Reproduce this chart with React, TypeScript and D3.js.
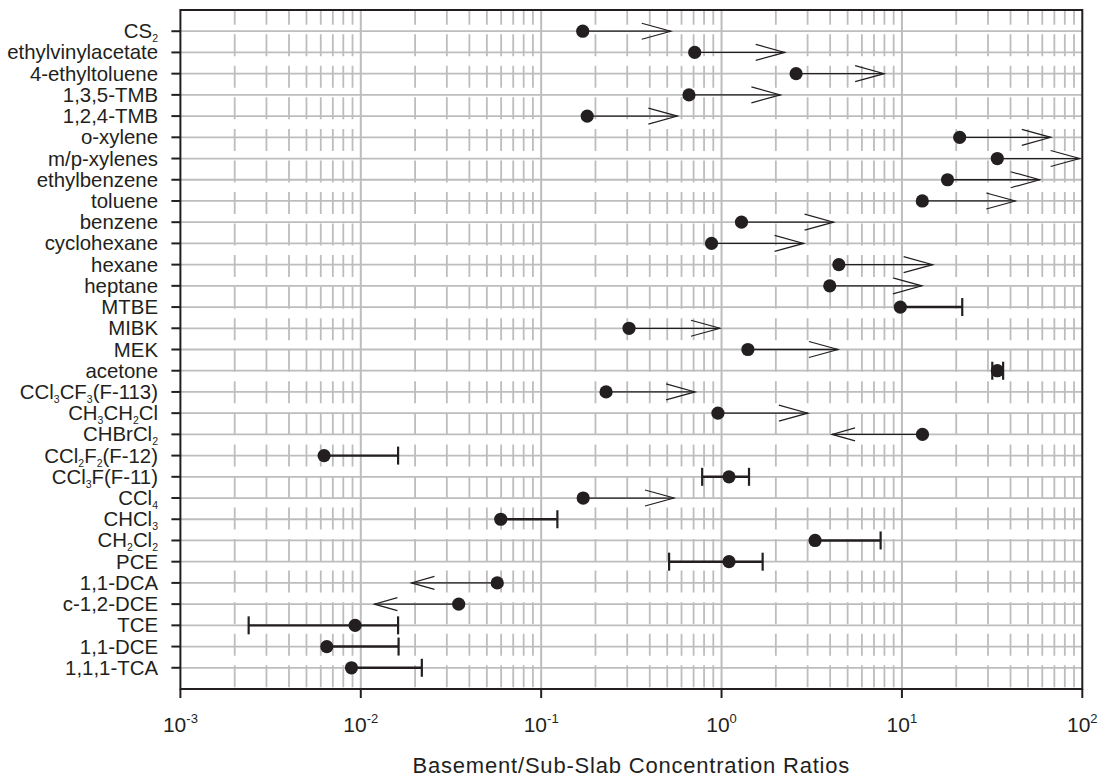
import React from "react";
import * as d3 from "d3";

// ---------- data ----------
// {n} marks a subscript
const categories = [
  "CS{2}", "ethylvinylacetate", "4-ethyltoluene", "1,3,5-TMB", "1,2,4-TMB",
  "o-xylene", "m/p-xylenes", "ethylbenzene", "toluene", "benzene",
  "cyclohexane", "hexane", "heptane", "MTBE", "MIBK", "MEK", "acetone",
  "CCl{3}CF{3}(F-113)", "CH{3}CH{2}Cl", "CHBrCl{2}", "CCl{2}F{2}(F-12)",
  "CCl{3}F(F-11)", "CCl{4}", "CHCl{3}", "CH{2}Cl{2}", "PCE", "1,1-DCA",
  "c-1,2-DCE", "TCE", "1,1-DCE", "1,1,1-TCA",
];
const ratioValues = [
  0.170, 0.71, 2.59, 0.66, 0.18,
  20.9, 33.8, 17.9, 12.97, 1.29,
  0.88, 4.47, 3.98, 9.8, 0.307, 1.40, 33.8,
  0.229, 0.955, 13.0, 0.00626,
  1.10, 0.171, 0.0597, 3.30, 1.10, 0.0571,
  0.0349, 0.0093, 0.00648, 0.00888,
];
// up = lower bound (arrow right), down = upper bound (arrow left), range = error bar
const markTypes = [
  "up", "up", "up", "up", "up",
  "up", "up", "up", "up", "up",
  "up", "up", "up", "range", "up", "up", "range",
  "up", "up", "down", "range",
  "range", "up", "range", "range", "range", "down",
  "down", "range", "range", "range",
];
const lowValues: (number | null)[] = [
  null, null, null, null, null,
  null, null, null, null, null,
  null, null, null, null, null, null, 31.7,
  null, null, 4.1, null,
  0.781, null, null, null, 0.512, 0.0191,
  0.0119, 0.00239, null, null,
];
const highValues: (number | null)[] = [
  0.523, 2.24, 7.97, 2.12, 0.569,
  66.9, 96.6, 58, 42.5, 4.18,
  2.85, 14.8, 12.9, 21.6, 0.98, 4.42, 36.4,
  0.713, 3.01, null, 0.0161,
  1.42, 0.545, 0.123, 7.62, 1.69, null,
  null, 0.0161, 0.0162, 0.0218,
];
const xTickValues = [1e-3, 1e-2, 1e-1, 1e0, 1e1, 1e2];
const xTickExponents = ["-3", "-2", "-1", "0", "1", "2"];
const xTitle = "Basement/Sub-Slab Concentration Ratios";

// ---------- layout ----------
const W = 1104, H = 777;
const left = 180.4, right = 1082.3, top = 10, bottom = 689;
const FONT = "'Liberation Sans', Arial, Helvetica, sans-serif";
const INK = "#231f20";
const GRID = "#bdbdbd";

function parseLabel(s: string) {
  const parts: { t: string; sub: boolean }[] = [];
  const re = /\{(\d+)\}/g;
  let last = 0;
  let m: RegExpExecArray | null;
  while ((m = re.exec(s))) {
    if (m.index > last) parts.push({ t: s.slice(last, m.index), sub: false });
    parts.push({ t: m[1], sub: true });
    last = m.index + m[0].length;
  }
  if (last < s.length) parts.push({ t: s.slice(last), sub: false });
  return parts;
}

export default function App() {
  const x = d3.scaleLog().domain([1e-3, 1e2]).range([left, right]);
  const y = d3.scalePoint<number>().domain(categories.map((_, i) => i)).range([top, bottom]).padding(1);

  const minorTicks: number[] = [];
  for (let e = -3; e < 2; e++) for (let k = 2; k <= 9; k++) minorTicks.push(k * Math.pow(10, e));
  const majorGrid = xTickValues.slice(1, -1);

  return (
    <svg width={W} height={H} style={{ position: "absolute", left: 0, top: 0, background: "#fff" }} fontFamily={FONT}>
      <rect x={0} y={0} width={W} height={H} fill="#fff" />
      {/* horizontal gridlines */}
      {categories.map((_, i) => (
        <line key={"h" + i} x1={left} x2={right} y1={y(i)} y2={y(i)} stroke={GRID} strokeWidth={1.8} />
      ))}
      {/* minor vertical (dashed) */}
      {minorTicks.map((v, i) => (
        <line key={"m" + i} x1={x(v)} x2={x(v)} y1={top} y2={bottom} stroke={GRID} strokeWidth={1.8}
          strokeDasharray="22 9.55" strokeDashoffset={7.3} />
      ))}
      {/* major vertical */}
      {majorGrid.map((v, i) => (
        <line key={"M" + i} x1={x(v)} x2={x(v)} y1={top} y2={bottom} stroke={GRID} strokeWidth={2} />
      ))}

      {/* marks */}
      {categories.map((_, i) => {
        const cy = y(i) as number;
        const cx = x(ratioValues[i]);
        const t = markTypes[i];
        const els: React.ReactNode[] = [];
        if (t === "up") {
          const tip = x(highValues[i] as number);
          els.push(<line key="s" x1={cx} x2={tip} y1={cy} y2={cy} stroke={INK} strokeWidth={1.3} />);
          els.push(<polyline key="a" points={`${tip - 29},${cy - 8} ${tip},${cy} ${tip - 29},${cy + 8}`} fill="none" stroke={INK} strokeWidth={1.2} />);
        } else if (t === "down") {
          const tip = x(lowValues[i] as number);
          els.push(<line key="s" x1={cx} x2={tip} y1={cy} y2={cy} stroke={INK} strokeWidth={1.3} />);
          els.push(<polyline key="a" points={`${tip + 23},${cy - 6.5} ${tip},${cy} ${tip + 23},${cy + 6.5}`} fill="none" stroke={INK} strokeWidth={1.2} />);
        } else {
          const lo = lowValues[i] != null ? x(lowValues[i] as number) : cx;
          const hi = x(highValues[i] as number);
          els.push(<line key="s" x1={lo} x2={hi} y1={cy} y2={cy} stroke={INK} strokeWidth={2.4} />);
          if (lowValues[i] != null)
            els.push(<line key="cl" x1={lo} x2={lo} y1={cy - 9} y2={cy + 9} stroke={INK} strokeWidth={2.2} />);
          els.push(<line key="ch" x1={hi} x2={hi} y1={cy - 9} y2={cy + 9} stroke={INK} strokeWidth={2.2} />);
        }
        els.push(<circle key="c" cx={cx} cy={cy} r={6.6} fill={INK} />);
        return <g key={"r" + i}>{els}</g>;
      })}

      {/* frame */}
      <rect x={left} y={top} width={right - left} height={bottom - top} fill="none" stroke={INK} strokeWidth={2} />

      {/* y ticks & labels */}
      {categories.map((c, i) => {
        const cy = y(i) as number;
        const parts = parseLabel(c);
        let shifted = false;
        return (
          <g key={"yl" + i}>
            <line x1={left - 9} x2={left} y1={cy} y2={cy} stroke={INK} strokeWidth={2} />
            <text x={158} y={cy + 7} textAnchor="end" fontSize={20.4} fill={INK}>
              {parts.map((p, j) => {
                let dy = 0;
                if (p.sub && !shifted) { dy = 4; shifted = true; }
                else if (!p.sub && shifted) { dy = -4; shifted = false; }
                return (
                  <tspan key={j} dy={dy} fontSize={p.sub ? 10.5 : 20.4}>{p.t}</tspan>
                );
              })}
            </text>
          </g>
        );
      })}

      {/* x ticks & labels */}
      {xTickValues.map((v, i) => (
        <g key={"xt" + i}>
          <line x1={x(v)} x2={x(v)} y1={bottom} y2={bottom + 9} stroke={INK} strokeWidth={2} />
          <text x={x(v)} y={732} textAnchor="middle" fontSize={21} fill={INK}>
            10<tspan dy={-9} fontSize={13}>{xTickExponents[i]}</tspan>
          </text>
        </g>
      ))}
      <text x={(left + right) / 2} y={773} textAnchor="middle" fontSize={22} letterSpacing={0.8} fill={INK}>{xTitle}</text>
    </svg>
  );
}
